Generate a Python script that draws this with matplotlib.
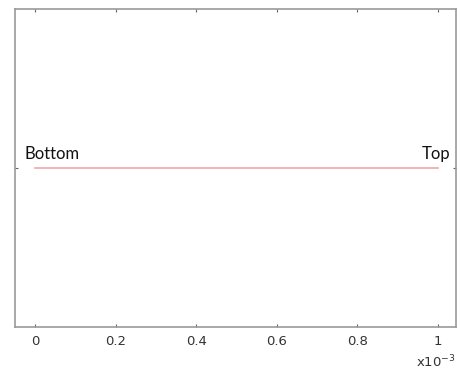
import matplotlib
matplotlib.use("Agg")
import matplotlib.pyplot as plt

# data: a single line from bottom to top (x in units of 1e-3)
x_vals = [0.0, 1.0]
y_vals = [0.0, 0.0]
end_labels = ["Bottom", "Top"]
xticks = [0, 0.2, 0.4, 0.6, 0.8, 1]
xtick_labels = ["0", "0.2", "0.4", "0.6", "0.8", "1"]

fig = plt.figure(figsize=(4.61, 3.72), dpi=100)
ax = fig.add_axes([15 / 461, 1 - 327 / 372, 441 / 461, 318 / 372])

ax.plot(x_vals, y_vals, color="#f2adb0", lw=1.3)
ax.text(x_vals[0] - 0.027, y_vals[0] + 0.035, end_labels[0], fontsize=12,
        family="Lato", ha="left", va="bottom", color="#111111")
ax.text(x_vals[1] + 0.032, y_vals[1] + 0.035, end_labels[1], fontsize=12,
        family="Lato", ha="right", va="bottom", color="#111111")

ax.set_xlim(-0.05, 1.045)
ax.set_ylim(-1, 1)
ax.set_xticks(xticks)
ax.set_xticklabels(xtick_labels, fontsize=9.5, color="#333333")
ax.set_yticks([0])
ax.set_yticklabels([])
ax.tick_params(direction="in", length=2.5, width=0.8, color="#666666",
               top=True, right=True, pad=6)
for s in ax.spines.values():
    s.set_color("#999999")
    s.set_linewidth(1.2)

fig.text(436 / 461, 1 - 362 / 372, "x10$^{-3}$", fontsize=9.5, color="#333333",
         ha="center", va="center")

fig.savefig("out.png", dpi=100)
